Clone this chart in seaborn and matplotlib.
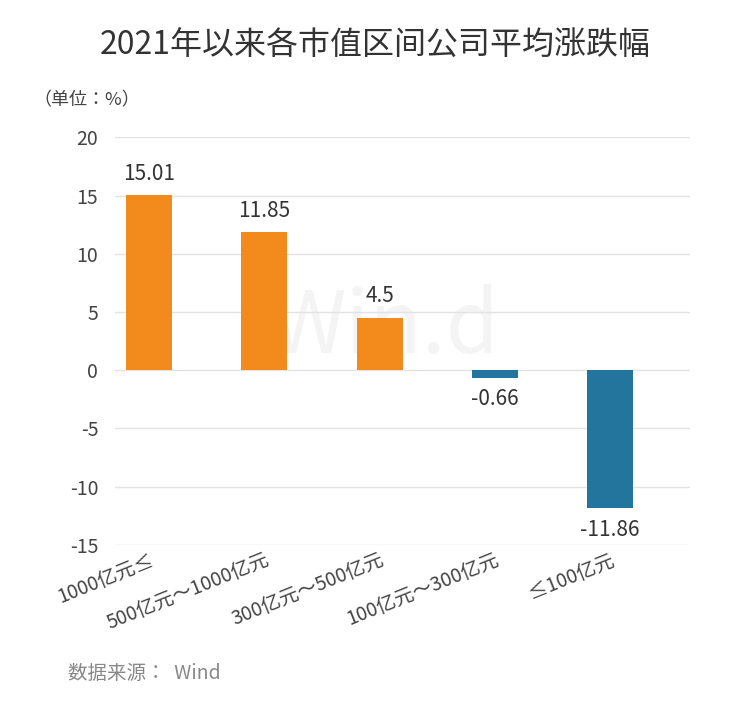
import matplotlib.pyplot as plt
import seaborn as sns
import pandas as pd

categories = ["1000亿元≤", "500亿元～1000亿元", "300亿元～500亿元", "100亿元～300亿元", "≤100亿元"]
values = [15.01, 11.85, 4.5, -0.66, -11.86]
labels = ["15.01", "11.85", "4.5", "-0.66", "-11.86"]

plt.rcParams["font.family"] = "sans-serif"
plt.rcParams["font.sans-serif"] = ["Noto Sans CJK SC", "Noto Sans CJK JP", "Noto Sans CJK TC", "DejaVu Sans"]
plt.rcParams["axes.unicode_minus"] = False
df = pd.DataFrame({"cat": categories, "val": values})
colors = ["#F28A1C" if v >= 0 else "#23759E" for v in values]

fig = plt.figure(figsize=(7.51, 7.04), dpi=100)
ax = fig.add_axes([0.153, 0.226, 0.766, 0.579])
sns.barplot(data=df, x="cat", y="val", hue="cat", palette=colors, width=0.4,
            saturation=1, legend=False, ax=ax)
ax.set_ylim(-15, 20)
ax.set_xlim(-0.3, 4.7)
ax.set_yticks(range(-15, 21, 5))
ax.grid(axis="y", color="#e3e3e3", lw=1)
ax.set_axisbelow(True)
for s in ax.spines.values():
    s.set_visible(False)
ax.tick_params(length=0, labelsize=14, colors="#444444")
ax.tick_params(axis="y", pad=12)
ax.set_xlabel("")
ax.set_ylabel("")
ax.set_xticks(range(5))
ax.set_xticklabels(categories, rotation=22, ha="right", rotation_mode="anchor")
for i, (v, t) in enumerate(zip(values, labels)):
    off = 0.9 if v >= 0 else -0.9
    ax.text(i, v + off, t, ha="center", va="bottom" if v >= 0 else "top", fontsize=15, color="#333333")
ax.text(0.47, 0.53, "Win.d", transform=ax.transAxes, ha="center", va="center", fontsize=62,
        color="#f4f4f4", zorder=0)

fig.text(0.5, 0.935, "2021年以来各市值区间公司平均涨跌幅", ha="center", va="center", fontsize=23, color="#333333")
fig.text(0.045, 0.858, "（单位：%）", ha="left", va="center", fontsize=13, color="#444444")
fig.text(0.09, 0.043, "数据来源：  Wind", ha="left", va="center", fontsize=14, color="#888888")
fig.savefig("out.png", dpi=100, facecolor="white")
